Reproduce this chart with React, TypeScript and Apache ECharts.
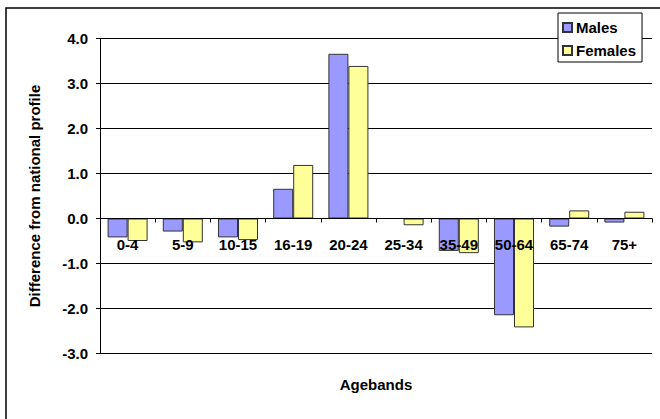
import React, { useEffect, useRef } from "react";
import * as echarts from "echarts";

const categories = ["0-4", "5-9", "10-15", "16-19", "20-24", "25-34", "35-49", "50-64", "65-74", "75+"];
const males = [-0.42, -0.29, -0.42, 0.66, 3.66, 0, -0.72, -2.15, -0.18, -0.09];
const females = [-0.5, -0.53, -0.48, 1.19, 3.39, -0.15, -0.77, -2.42, 0.18, 0.15];
const seriesNames = ["Males", "Females"];
const yTicks = { min: -3, max: 4, interval: 1 };
const xAxisTitle = "Agebands";
const yAxisTitle = "Difference from national profile";

const FONT = "'Liberation Sans', Arial, sans-serif";
const FS = 15;
const GRID_TOP = 38.5;
const GRID_BOTTOM = 65.5;
const HEIGHT = 419;

export default function App() {
  const ref = useRef<HTMLDivElement>(null);
  useEffect(() => {
    document.body.style.margin = "0";
    const chart = echarts.init(ref.current!, null, { renderer: "svg" });
    const plotH = HEIGHT - GRID_TOP - GRID_BOTTOM;
    // distance from the bottom of the grid up to the zero line
    const zeroOffset = (plotH * (0 - yTicks.min)) / (yTicks.max - yTicks.min);
    chart.setOption({
      animation: false,
      backgroundColor: "#ffffff",
      textStyle: { fontFamily: FONT },
      graphic: [
        {
          type: "rect",
          silent: true,
          z: -10,
          shape: { x: 6, y: 8, width: 720, height: 480 },
          style: { fill: "none", stroke: "#000", lineWidth: 1.5 },
        },
        {
          type: "text",
          silent: true,
          x: 376,
          y: 384,
          style: {
            text: xAxisTitle,
            fontFamily: FONT,
            fontSize: FS,
            fontWeight: "bold",
            fill: "#000",
            align: "center",
            verticalAlign: "middle",
          },
        },
      ],
      legend: {
        orient: "vertical",
        left: 558,
        top: 13,
        padding: [7, 6, 4, 4],
        itemGap: 8,
        itemWidth: 9,
        itemHeight: 9,
        borderColor: "#000",
        borderWidth: 1,
        backgroundColor: "#fff",
        borderRadius: 0,
        icon: "rect",
        data: seriesNames,
        textStyle: { fontFamily: FONT, fontSize: FS, fontWeight: "bold", color: "#000", lineHeight: 15, padding: [0, 0, 0, -1] },
      },
      grid: { left: 100, right: 8, top: GRID_TOP, bottom: GRID_BOTTOM, containLabel: false, outerBoundsMode: "none" },
      xAxis: {
        type: "category",
        data: categories,
        z: 10,
        position: "bottom",
        offset: -zeroOffset,
        axisLine: { onZero: false, lineStyle: { color: "#000", width: 1 } },
        axisTick: { show: true, alignWithLabel: false, length: 4, lineStyle: { color: "#000" } },
        axisLabel: { margin: 18, fontFamily: FONT, fontSize: FS, fontWeight: "bold", color: "#000", interval: 0 },
        splitLine: { show: false },
      },
      yAxis: {
        type: "value",
        min: yTicks.min,
        max: yTicks.max,
        interval: yTicks.interval,
        axisLine: { show: true, lineStyle: { color: "#000", width: 1 } },
        axisTick: { show: true, length: 4, lineStyle: { color: "#000" } },
        axisLabel: {
          margin: 12,
          fontFamily: FONT,
          fontSize: FS,
          fontWeight: "bold",
          color: "#000",
          formatter: (v: number) => v.toFixed(1),
        },
        splitLine: { show: true, lineStyle: { color: "#000", width: 1 } },
        name: yAxisTitle,
        nameLocation: "middle",
        nameGap: 58,
        nameTextStyle: { fontFamily: FONT, fontSize: FS, fontWeight: "bold", color: "#000" },
      },
      series: [
        {
          name: seriesNames[0],
          type: "bar",
          data: males,
          barGap: "0%",
          barCategoryGap: "27.5%",
          itemStyle: { color: "#9999FF", borderColor: "#333", borderWidth: 1 },
        },
        {
          name: seriesNames[1],
          type: "bar",
          data: females,
          barGap: "0%",
          barCategoryGap: "27.5%",
          itemStyle: { color: "#FFFF99", borderColor: "#333", borderWidth: 1 },
        },
      ],
    });
    return () => chart.dispose();
  }, []);
  return <div ref={ref} style={{ width: 660, height: 419 }} />;
}
